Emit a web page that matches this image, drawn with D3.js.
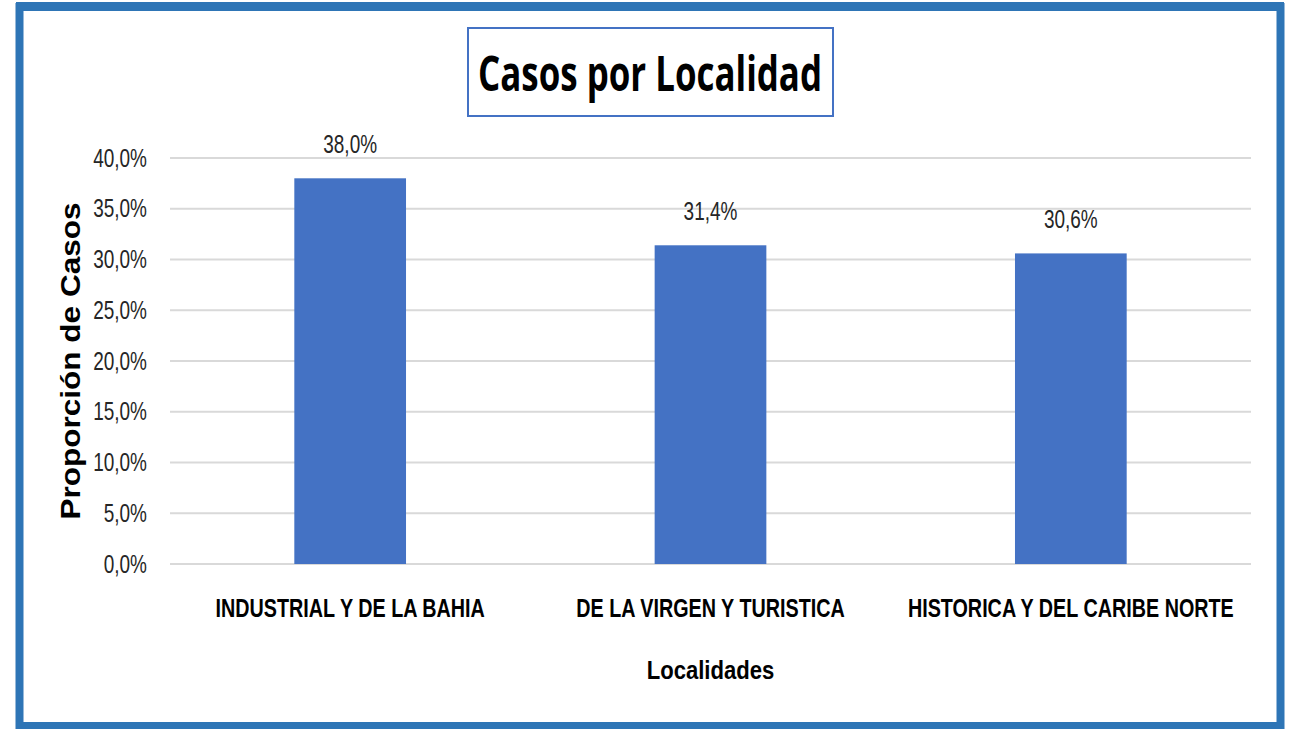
<!DOCTYPE html>
<html>
<head>
<meta charset="utf-8">
<script src="https://cdn.jsdelivr.net/npm/d3@7"></script>
<style>
  body { margin: 0; background: #fff; }
  text { font-family: "Liberation Sans", Arial, sans-serif; }
</style>
</head>
<body>
<div class="chart"></div>
<script>
const categories = ["INDUSTRIAL Y DE LA BAHIA", "DE LA VIRGEN Y TURISTICA", "HISTORICA Y DEL CARIBE NORTE"];
const values = [38.0, 31.4, 30.6];
const yTicks = [0, 5, 10, 15, 20, 25, 30, 35, 40];

const w = 1291;
const h = 729;
const plotLeft = 170;
const plotRight = 1251;
const plotTop = 158;
const plotBottom = 564;
const narrow = 0.76; // no narrow font installed, squeeze horizontally

const svg = d3
  .select(".chart")
  .append("svg")
  .attr("width", w)
  .attr("height", h);

// outer frame
svg.append("rect")
  .attr("x", 19.5).attr("y", 7)
  .attr("width", 1261).attr("height", 719)
  .attr("fill", "none")
  .attr("stroke", "#2e75b6")
  .attr("stroke-width", 8);
svg.append("rect")
  .attr("x", 16).attr("y", 2)
  .attr("width", 1268).attr("height", 8)
  .attr("fill", "#2e75b6");

const fmt = (v) => v.toFixed(1).replace(".", ",") + "%";

const xScale = d3
  .scaleBand()
  .domain(categories)
  .range([plotLeft, plotRight])
  .paddingInner(0.69)
  .paddingOuter(0.345);

const yScale = d3.scaleLinear().domain([0, 40]).range([plotBottom, plotTop]);

// gridlines
svg.append("g")
  .selectAll("line")
  .data(yTicks)
  .enter()
  .append("line")
  .attr("x1", plotLeft)
  .attr("x2", plotRight)
  .attr("y1", (d) => yScale(d))
  .attr("y2", (d) => yScale(d))
  .attr("stroke", "#d9d9d9")
  .attr("stroke-width", 2);

// y axis labels
const yAxis = d3.axisLeft(yScale).tickValues(yTicks).tickSize(0).tickPadding(0).tickFormat(fmt);
const yg = svg.append("g")
  .attr("transform", `translate(${plotLeft - 23},0)`)
  .call(yAxis);
yg.select(".domain").remove();
yg.attr("font-family", null).attr("font-size", null);
yg.selectAll("text")
  .attr("font-size", 25)
  .attr("fill", "#262626")
  .attr("transform", `scale(${narrow},1)`);

// bars
svg.selectAll("rect.bar")
  .data(values)
  .enter()
  .append("rect")
  .attr("class", "bar")
  .attr("x", (d, i) => xScale(categories[i]))
  .attr("y", (d) => yScale(d))
  .attr("width", xScale.bandwidth())
  .attr("height", (d) => yScale(0) - yScale(d))
  .attr("fill", "#4472c4");

// data labels
svg.selectAll("text.lbl")
  .data(values)
  .enter()
  .append("text")
  .attr("class", "lbl")
  .attr("transform", (d, i) =>
    `translate(${xScale(categories[i]) + xScale.bandwidth() / 2},${yScale(d) - 25}) scale(${narrow},1)`)
  .attr("text-anchor", "middle")
  .attr("font-size", 25)
  .attr("fill", "#262626")
  .text(fmt);

// x axis labels
const xAxis = d3.axisBottom(xScale).tickSize(0).tickPadding(0);
const xg = svg.append("g")
  .attr("transform", `translate(0,${plotBottom + 53})`)
  .call(xAxis);
xg.select(".domain").remove();
xg.attr("font-family", null).attr("font-size", null);
xg.selectAll("text")
  .attr("dy", 0)
  .attr("y", 0)
  .attr("font-size", 26)
  .attr("font-weight", "bold")
  .attr("fill", "#000")
  .attr("transform", `scale(${narrow},1)`);

// axis titles
svg.append("text")
  .attr("transform", `translate(${(plotLeft + plotRight) / 2},679) scale(0.85,1)`)
  .attr("text-anchor", "middle")
  .attr("font-size", 26)
  .attr("font-weight", "bold")
  .text("Localidades");

svg.append("text")
  .attr("transform", `translate(80,${(plotTop + plotBottom) / 2}) rotate(-90)`)
  .attr("text-anchor", "middle")
  .attr("font-size", 27)
  .attr("font-weight", "bold")
  .attr("textLength", 317)
  .attr("lengthAdjust", "spacingAndGlyphs")
  .text("Proporción de Casos");

// title box
svg.append("rect")
  .attr("x", 468).attr("y", 28)
  .attr("width", 365).attr("height", 88)
  .attr("fill", "#fff")
  .attr("stroke", "#4472c4")
  .attr("stroke-width", 2);
svg.append("text")
  .attr("x", 650)
  .attr("y", 91)
  .attr("text-anchor", "middle")
  .style("font-family", "'Open Sans', 'Liberation Sans', sans-serif")
  .attr("font-size", 48)
  .attr("font-weight", "bold")
  .attr("textLength", 344)
  .attr("lengthAdjust", "spacingAndGlyphs")
  .text("Casos por Localidad");
</script>
</body>
</html>
